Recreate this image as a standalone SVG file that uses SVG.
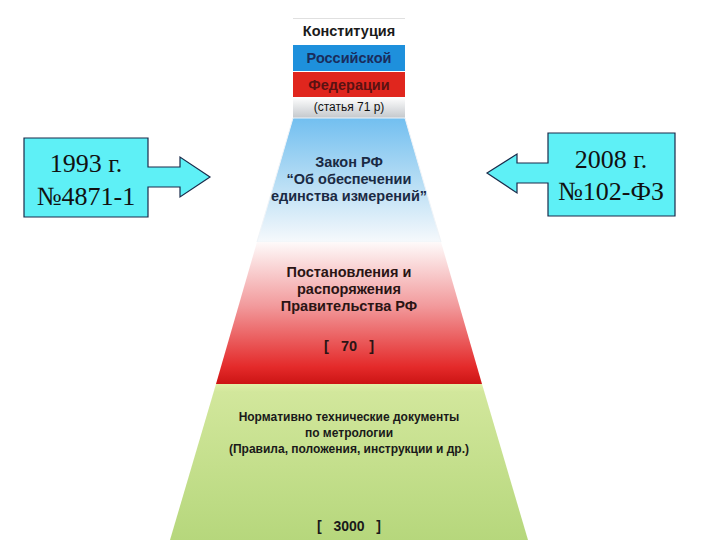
<svg xmlns="http://www.w3.org/2000/svg" width="720" height="540" viewBox="0 0 720 540">
<style>
.b{font-family:"Liberation Sans",Arial,sans-serif;font-weight:bold;text-anchor:middle}
.t{font-family:"Liberation Serif","Times New Roman",serif;font-size:26px;fill:#111;text-anchor:middle}
.call{fill:#5ef0f6;stroke:#1a2a4a;stroke-width:1.2}
</style>
<defs>
<linearGradient id="gBlue" x1="0" y1="0" x2="0" y2="1">
<stop offset="0" stop-color="#72bff0"/><stop offset="0.5" stop-color="#b4dcf4"/><stop offset="1" stop-color="#f6f9fc"/>
</linearGradient>
<linearGradient id="gRed" x1="0" y1="0" x2="0" y2="1">
<stop offset="0" stop-color="#fefafa"/><stop offset="0.45" stop-color="#f29a9c"/><stop offset="0.88" stop-color="#e42a2a"/><stop offset="1" stop-color="#cc1414"/>
</linearGradient>
<linearGradient id="gGreen" x1="0" y1="0" x2="0" y2="1">
<stop offset="0" stop-color="#e2f0a8"/><stop offset="0.05" stop-color="#d2e79c"/><stop offset="1" stop-color="#b6d77c"/>
</linearGradient>
<linearGradient id="gGray" x1="0" y1="0" x2="0" y2="1">
<stop offset="0" stop-color="#ffffff"/><stop offset="1" stop-color="#c4c8cc"/>
</linearGradient>
</defs>
<rect width="720" height="540" fill="#ffffff"/>

<g id="top-constitution">
<line x1="293" y1="18.5" x2="405" y2="18.5" stroke="#e0e0e0" stroke-width="1"/>
<text class="b" x="349" y="36" font-size="14.5" fill="#1a1a1a">Конституция</text>
<rect x="293" y="45" width="112" height="26" fill="#1e90dc"/>
<text class="b" x="349" y="63" font-size="14.5" fill="#1a2c5c">Российской</text>
<rect x="293" y="72" width="112" height="25" fill="#e0261e"/>
<text class="b" x="349" y="90" font-size="14.5" fill="#5a1212">Федерации</text>
<rect x="293" y="97" width="112" height="21" fill="url(#gGray)"/>
<text x="349" y="111" font-size="12" fill="#111" text-anchor="middle" font-family="Liberation Sans, Arial, sans-serif">(статья 71 р)</text>
</g>

<g id="tier-law">
<polygon points="293,118 405,118 441,242 257,242" fill="url(#gBlue)" stroke="#f0f4f8" stroke-width="1"/>
<text class="b" x="349" y="167" font-size="14.5" fill="#1a2a44">Закон РФ</text>
<text class="b" x="349" y="184" font-size="14.5" fill="#1a2a44">“Об обеспечении</text>
<text class="b" x="349" y="201" font-size="14.5" fill="#1a2a44">единства измерений”</text>
</g>

<g id="tier-government">
<polygon points="257,242 441,242 482,384 216,384" fill="url(#gRed)"/>
<text class="b" x="349" y="277" font-size="14.5" fill="#2a1414">Постановления и</text>
<text class="b" x="349" y="294" font-size="14.5" fill="#2a1414">распоряжения</text>
<text class="b" x="349" y="311" font-size="14.5" fill="#2a1414">Правительства РФ</text>
<text class="b" x="349" y="351" font-size="14.5" fill="#2a1414" xml:space="preserve">[   70   ]</text>
</g>

<g id="tier-normative">
<polygon points="216,384 482,384 528,540 170,540" fill="url(#gGreen)"/>
<text class="b" x="349" y="421" font-size="12" fill="#1a1a1a">Нормативно технические документы</text>
<text class="b" x="349" y="437" font-size="12" fill="#1a1a1a">по метрологии</text>
<text class="b" x="349" y="453" font-size="12" fill="#1a1a1a">(Правила, положения, инструкции и др.)</text>
<text class="b" x="349" y="531" font-size="14" fill="#1a1a1a" xml:space="preserve">[   3000   ]</text>
</g>

<g id="callout-1993">
<polygon class="call" points="24,138 148,138 148,167 180,167 180,157 210,177 180,197 180,187 148,187 148,217 24,217"/>
<text class="t" x="86" y="172">1993 г.</text>
<text class="t" x="86" y="205">№4871-1</text>
</g>

<g id="callout-2008">
<polygon class="call" points="675,133 548,133 548,163 517,163 517,154 487,173 517,193 517,183 548,183 548,216 675,216"/>
<text class="t" x="611" y="168">2008 г.</text>
<text class="t" x="611" y="200">№102-ФЗ</text>
</g>

<g id="connectors"></g>
</svg>
